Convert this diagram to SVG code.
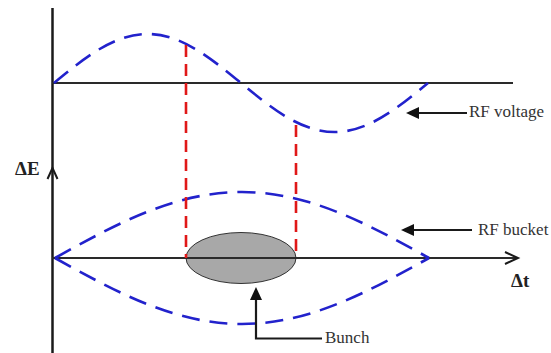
<svg xmlns="http://www.w3.org/2000/svg" width="551" height="353" viewBox="0 0 551 353">
  <style>
    .axis { stroke: #1a1a1a; stroke-width: 2.5; fill: none; }
    .haxis { stroke: #2a2a2a; stroke-width: 2.2; fill: none; }
    .chev { stroke: #1a1a1a; stroke-width: 2; fill: none; stroke-linejoin: miter; }
    .blue { stroke: #2222cc; stroke-width: 2.6; fill: none; stroke-dasharray: 18 10; }
    .red { stroke: #e01818; stroke-width: 2.6; fill: none; stroke-dasharray: 12 7; }
    .ptr { stroke: #1a1a1a; stroke-width: 2.2; fill: none; }
    .head { fill: #111; stroke: none; }
    .lbl { font-family: "Liberation Serif", "Times New Roman", serif; font-size: 17px; fill: #333; }
    .ax { font-family: "Liberation Serif", "Times New Roman", serif; font-size: 19px; font-weight: bold; fill: #222; }
  </style>

  <g id="axes">
    <line class="axis" x1="52.5" y1="8" x2="52.5" y2="353"/>
    <polyline class="chev" points="47.5,179 52.5,168 57.5,179"/>
    <line class="haxis" x1="52" y1="83" x2="513" y2="83"/>
  </g>

  <g id="bunch">
    <ellipse cx="241" cy="258" rx="55" ry="25.5" fill="#a8a8a8" stroke="#333" stroke-width="1"/>
  </g>

  <g id="dt-axis">
    <line class="haxis" x1="52" y1="258" x2="517" y2="258"/>
    <polyline class="chev" points="505,252 518,258 505,264"/>
  </g>

  <g id="rf-voltage-curve">
    <path class="blue" d="M54,83 C84.5,57.9 113.7,34 147.5,34 C181.3,34 210.5,57.9 241,83 C271.5,108.1 300.7,132 334.5,132 C368.3,132 397.5,108.1 428,83"/>
  </g>

  <g id="rf-bucket-curve">
    <path class="blue" d="M55,258 C116,224.2 174.3,192 242,192 C309.7,192 368,224.2 429,258"/>
    <path class="blue" d="M55,258 C116,291.8 174.3,324 242,324 C309.7,324 368,291.8 429,258"/>
  </g>

  <g id="projections">
    <line class="red" x1="186" y1="45" x2="186" y2="258"/>
    <line class="red" x1="296" y1="125" x2="296" y2="258"/>
  </g>

  <g id="connectors">
    <line class="ptr" x1="416" y1="113" x2="467" y2="113"/>
    <polygon class="head" points="406,113 419,107 419,119"/>
    <line class="ptr" x1="411" y1="230" x2="472" y2="230"/>
    <polygon class="head" points="401,230 414,224 414,236"/>
    <polyline class="ptr" points="256,297 256,338.5 322,338.5"/>
    <polygon class="head" points="256,287 250,300 262,300"/>
  </g>

  <g id="labels">
    <text class="ax" x="15" y="175">ΔE</text>
    <text class="ax" x="511" y="287">Δt</text>
    <text class="lbl" x="469" y="117">RF voltage</text>
    <text class="lbl" x="478" y="235">RF bucket</text>
    <text class="lbl" x="325" y="343">Bunch</text>
  </g>
</svg>
